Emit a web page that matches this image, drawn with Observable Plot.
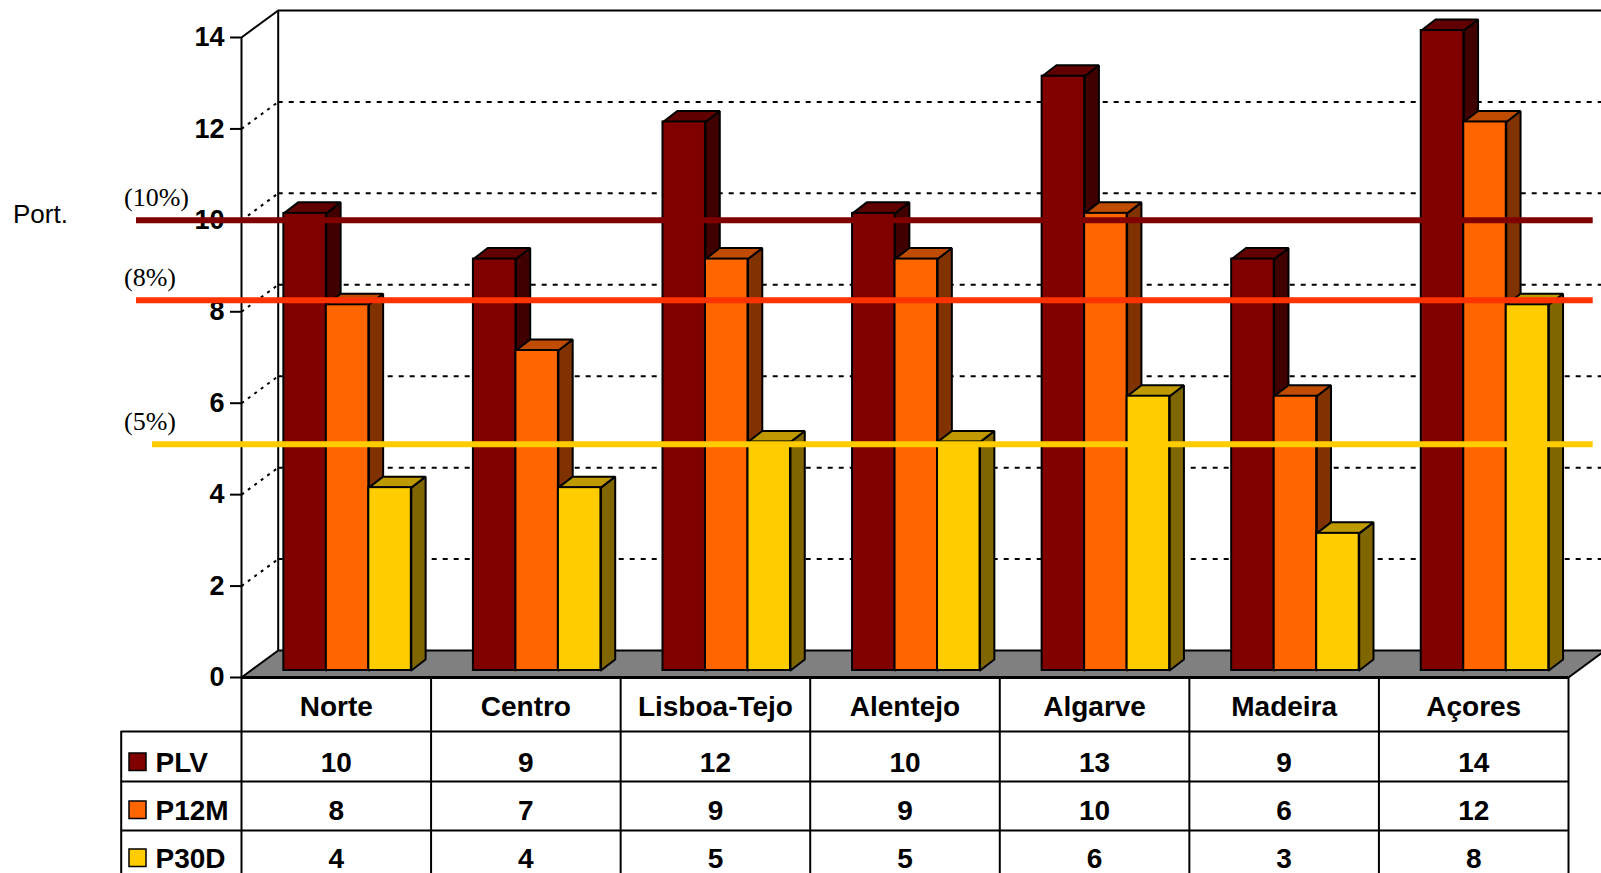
<!DOCTYPE html>
<html><head><meta charset="utf-8">
<script src="https://cdn.jsdelivr.net/npm/d3@7"></script>
<script src="https://cdn.jsdelivr.net/npm/@observablehq/plot@0.6"></script>
<style>html,body{margin:0;padding:0;background:#fff;overflow:hidden}</style>
</head><body><div id="chart"></div>
<script>
// ---- data ----
const categories = ["Norte","Centro","Lisboa-Tejo","Alentejo","Algarve","Madeira","Açores"];
const seriesNames = ["PLV","P12M","P30D"];
const plv  = [10, 9, 12, 10, 13, 9, 14];
const p12m = [8, 7, 9, 9, 10, 6, 12];
const p30d = [4, 4, 5, 5, 6, 3, 8];
const yTicks = [0, 2, 4, 6, 8, 10, 12, 14];
const refValues = [10, 8.25, 5.1];
const refLabels = ["(10%)", "(8%)", "(5%)"];

// ---- styles ----
const frontColors = ["#800000", "#FF6600", "#FFCC00"];
const topColors   = ["#600000", "#BF4C00", "#BF9900"];
const sideColors  = ["#400000", "#803300", "#806600"];
const refColors   = ["#800000", "#FF3300", "#FFCC00"];
const SANS = "Liberation Sans, Arial, sans-serif";
const SERIF = "Liberation Serif, Times New Roman, serif";

// ---- layout ----
const W = 1601, H = 873;
const ML = 241, MR = 33, MT = 37, MB = 196;
const X0 = ML, X1 = W - MR, Y0 = H - MB, Y14 = MT;
const pxX = (X1 - X0) / 7, pxY = (Y0 - Y14) / 14;
const xv = px => (px - X0) / pxX;   // absolute px -> x units (layout only)
const yv = py => (Y0 - py) / pxY;   // absolute px -> y units (layout only)
const ux = d => d / pxX, uy = d => d / pxY;

const WDX = 36.7, WDY = -27;        // back wall offset (px)
const BDX = 11.3, BDY = -7;         // bar plane offset (px)
const DDX = ux(14.3), DDY = uy(11); // bar depth
const bw = 42.5 / pxX;
const gOff = (1 - 3 * bw) / 2;

const seriesValues = [plv, p12m, p30d];
const bars = seriesValues.map((vals, s) => vals.map((v, i) => ({
  s, i, v, x1: i + gOff + s * bw, x2: i + gOff + (s + 1) * bw
})));
function tops(s) {
  return bars[s].flatMap(b => [
    {x: b.x1, y: b.v}, {x: b.x1 + DDX, y: b.v + DDY}, {x: b.x2 + DDX, y: b.v + DDY},
    {x: b.x2, y: b.v}, {x: b.x1, y: b.v}
  ].map(p => ({...p, id: b.i})));
}
function sides(s) {
  return bars[s].flatMap(b => [
    {x: b.x2, y: 0}, {x: b.x2 + DDX, y: DDY}, {x: b.x2 + DDX, y: b.v + DDY},
    {x: b.x2, y: b.v}, {x: b.x2, y: 0}
  ].map(p => ({...p, id: b.i})));
}
const floorPts = [
  {x: 0, y: 0}, {x: 7, y: 0}, {x: 7 + ux(WDX), y: uy(-WDY)},
  {x: ux(WDX), y: uy(-WDY)}, {x: 0, y: 0}
];
const rowBase = [771.5, 819.5, 867.5];

const marks = [];
// back wall gridlines
marks.push(Plot.ruleY(yTicks.filter(t => t > 0 && t < 14), {
  x1: () => 0, x2: () => xv(1650), dx: WDX, dy: WDY,
  stroke: "black", strokeWidth: 2, strokeDasharray: "5,6"
}));
marks.push(Plot.ruleY([14], {x1: () => 0, x2: () => xv(1650), dx: WDX, dy: WDY, stroke: "black", strokeWidth: 2}));
marks.push(Plot.ruleX([0], {y1: () => 0, y2: () => 14, dx: WDX, dy: WDY, stroke: "black", strokeWidth: 2}));
// side wall diagonals
marks.push(Plot.link(yTicks.filter(t => t > 0 && t < 14), {
  x1: () => 0, y1: d => d, x2: () => ux(WDX), y2: d => d + uy(-WDY),
  stroke: "black", strokeWidth: 2, strokeDasharray: "3,5"
}));
marks.push(Plot.link([14], {
  x1: () => 0, y1: d => d, x2: () => ux(WDX), y2: d => d + uy(-WDY),
  stroke: "black", strokeWidth: 2
}));
// floor
marks.push(Plot.line(floorPts, {x: "x", y: "y", fill: "#808080", stroke: "black", strokeWidth: 2}));
// axis
marks.push(Plot.ruleX([0], {y1: () => 0, y2: () => 14, stroke: "black", strokeWidth: 2}));
marks.push(Plot.axisY(yTicks, {
  anchor: "left", tickSize: 11, tickPadding: 6, fontSize: 27, fontWeight: "bold",
  fontFamily: SANS, strokeWidth: 2, tickFormat: d => String(d), label: null
}));
// bars
for (let s = 0; s < 3; s++) {
  marks.push(Plot.line(sides(s), {x: "x", y: "y", z: "id", fill: sideColors[s], stroke: "black",
    strokeWidth: 2, strokeLinejoin: "miter", dx: BDX, dy: BDY}));
  marks.push(Plot.line(tops(s), {x: "x", y: "y", z: "id", fill: topColors[s], stroke: "black",
    strokeWidth: 2, strokeLinejoin: "miter", dx: BDX, dy: BDY}));
  marks.push(Plot.rect(bars[s], {x1: "x1", x2: "x2", y1: () => 0, y2: "v", fill: frontColors[s],
    stroke: "black", strokeWidth: 2, dx: BDX, dy: BDY}));
}
// floor front edge
marks.push(Plot.ruleY([0], {x1: () => 0, x2: () => 7, stroke: "black", strokeWidth: 3}));
// reference lines
refValues.forEach((r, k) => {
  marks.push(Plot.ruleY([r], {x1: () => xv(k === 2 ? 152 : 136), x2: () => xv(1592.7),
    stroke: refColors[k], strokeWidth: 6}));
});
marks.push(Plot.text(refLabels, {x: () => xv(123.5), y: (d, i) => refValues[i], dy: -14,
  text: d => d, lineAnchor: "bottom", textAnchor: "start", fontFamily: SERIF, fontSize: 26, fill: "black"}));
marks.push(Plot.text(["Port."], {x: () => xv(12.5), y: () => refValues[0], dy: 3,
  text: d => d, lineAnchor: "bottom", textAnchor: "start", fontFamily: SANS, fontSize: 26, fill: "black"}));
// table
marks.push(Plot.ruleY([yv(731), yv(781), yv(830)], {x1: () => xv(120.7), x2: () => 7, stroke: "black", strokeWidth: 2}));
marks.push(Plot.ruleX(d3.range(8), {y1: () => 0, y2: () => yv(885), stroke: "black", strokeWidth: 2}));
marks.push(Plot.ruleX([xv(120.7)], {y1: () => yv(731), y2: () => yv(885), stroke: "black", strokeWidth: 2}));
marks.push(Plot.text(categories, {x: (d, i) => i + 0.5, y: () => yv(715), text: d => d,
  lineAnchor: "bottom", fontFamily: SANS, fontSize: 28, fontWeight: "bold", fill: "black"}));
seriesValues.forEach((vals, r) => {
  marks.push(Plot.text(vals, {x: (d, i) => i + 0.5, y: () => yv(rowBase[r]), text: d => String(d),
    lineAnchor: "bottom", fontFamily: SANS, fontSize: 28, fontWeight: "bold", fill: "black"}));
  marks.push(Plot.rect([seriesNames[r]], {x1: () => xv(129), x2: () => xv(146),
    y1: () => yv(rowBase[r] - 1), y2: () => yv(rowBase[r] - 18.5),
    fill: frontColors[r], stroke: "black", strokeWidth: 1.5}));
});
marks.push(Plot.text(seriesNames, {x: () => xv(155), y: (d, i) => yv(rowBase[i]), text: d => d,
  lineAnchor: "bottom", textAnchor: "start", fontFamily: SANS, fontSize: 28, fontWeight: "bold", fill: "black"}));

const chart = Plot.plot({
  width: W, height: H,
  marginLeft: ML, marginRight: MR, marginTop: MT, marginBottom: MB,
  x: {type: "linear", domain: [0, 7], axis: null},
  y: {type: "linear", domain: [0, 14]},
  style: {fontFamily: SANS, color: "black", background: "white", overflow: "visible"},
  marks
});
document.getElementById("chart").appendChild(chart);
</script>
</body></html>
